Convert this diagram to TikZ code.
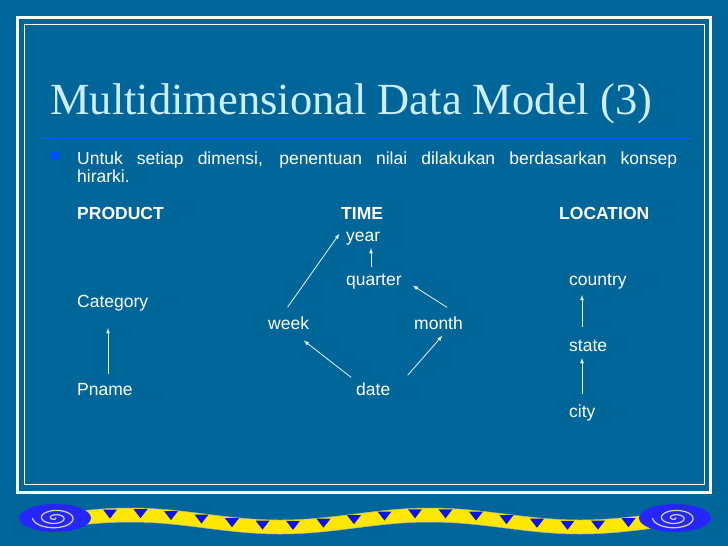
\documentclass[tikz,border=0pt]{standalone}
\usepackage{fontspec}
\setmainfont{Liberation Sans}
\newfontfamily\titlefont{Liberation Serif}
\begin{document}
\begin{tikzpicture}[x=1pt,y=-1pt,
  txt/.style={text=white,anchor=base west,inner sep=0pt,font=\fontsize{17.5}{19.5}\selectfont},
  bt/.style={txt,font=\fontsize{17.5}{19.5}\selectfont\bfseries},
  arr/.style={->,>=latex,draw=white!90!cyan,line width=0.8pt,shorten >=1pt,shorten <=1pt}]
\definecolor{bg}{HTML}{006699}
\definecolor{ttl}{HTML}{CCEEFF}
\definecolor{tri}{HTML}{0A14E6}
\fill[bg] (0,0) rectangle (728,546);
\useasboundingbox (0,0) rectangle (728,546);
\draw[white,line width=3pt] (17.5,17.5) rectangle (710.5,492.5);
\draw[white,line width=0.8pt] (24,24) rectangle (704,484);
\node[anchor=base west,inner sep=0pt,text=ttl,font=\titlefont\fontsize{44.5}{48}\selectfont] (title) at (50,114) {Multidimensional Data Model (3)};
\draw[color=blue!60!cyan,line width=0.8pt] (42,138) -- (692,138);
\fill[blue!70!cyan] (51,152) rectangle (59,160);
\node[txt,text width=600pt,align=justify,font=\fontsize{17.5}{18}\selectfont] (t1) at (77,164) {Untuk setiap dimensi, penentuan nilai dilakukan berdasarkan konsep\linebreak hirarki.};
\node[bt] (product) at (77,219) {PRODUCT};
\node[bt] (time) at (341,219) {TIME};
\node[bt] (location) at (559,219) {LOCATION};
\node[txt] (year) at (346,241) {year};
\node[txt] (quarter) at (346,285) {quarter};
\node[txt] (country) at (569,285) {country};
\node[txt] (category) at (77,307) {Category};
\node[txt] (week) at (268,329) {week};
\node[txt] (month) at (414,329) {month};
\node[txt] (state) at (569,351) {state};
\node[txt] (pname) at (77,395) {Pname};
\node[txt] (date) at (356,395) {date};
\node[txt] (city) at (569,417) {city};
\coordinate (a1) at (108,375); \coordinate (a2) at (108,327);
\draw[arr] (a1) -- (a2);
\coordinate (d1) at (352,378); \coordinate (d2) at (303,340);
\draw[arr] (d1) -- (d2);
\coordinate (e1) at (407,376); \coordinate (e2) at (443,335);
\draw[arr] (e1) -- (e2);
\coordinate (w1) at (287,308); \coordinate (w2) at (340,233);
\draw[arr] (w1) -- (w2);
\coordinate (m1) at (448,308); \coordinate (m2) at (412,285);
\draw[arr] (m1) -- (m2);
\coordinate (q1) at (371,268); \coordinate (q2) at (371,247);
\draw[arr] (q1) -- (q2);
\coordinate (s1) at (582,328); \coordinate (s2) at (582,294);
\draw[arr] (s1) -- (s2);
\coordinate (c1) at (582,395); \coordinate (c2) at (582,357);
\draw[arr] (c1) -- (c2);
% bottom ornament
\fill[yellow!90!orange,draw=gray!60,line width=0.5pt] plot[domain=80:650,samples=90,smooth] (\x,{521-6*cos((\x-430)*1.2)-7})
  -- plot[domain=650:80,samples=90,smooth] (\x,{521-6*cos((\x-430)*1.2)+7}) -- cycle;
\foreach \i in {0,...,17}{
  \pgfmathsetmacro{\xc}{110+\i*30.5}
  \pgfmathsetmacro{\yc}{521-6*cos((\xc-430)*1.2)}
  \fill[tri] (\xc-7,\yc-6) -- (\xc+7,\yc-6) -- (\xc,\yc+3) -- cycle;
}
\foreach \cx in {55,675}{
  \fill[blue!85] (\cx,518) ellipse (36 and 14);
  \draw[yellow!40!gray!60!white,line width=1.2pt] plot[domain=0:900,samples=80,smooth] ({\cx+0.025*\x*cos(\x)},{518+0.012*\x*sin(\x)});
}
\end{tikzpicture}
\end{document}
